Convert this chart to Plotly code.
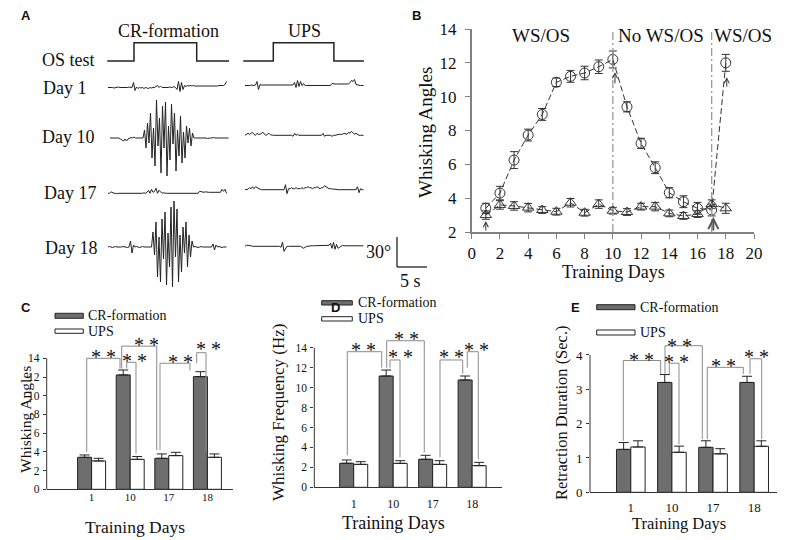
import plotly.graph_objects as go

REF_W, REF_H = 797, 540
OX, OY = 8, 8                      # page (body) margin of the exported html
W, H = REF_W - OX, REF_H - OY
SERIF = "Liberation Serif"
SANS = "Liberation Sans"


def px(x):
    return (x - OX) / W


def py(y):
    return 1 - (y - OY) / H


# ---------------- Panel A : whisker traces (degrees), one sample every 0.25 s
trace_dt = 0.25
os_level = [0, 0, 1, 1, 0, 0]
os_time_cr = [0, 4.45, 4.45, 14.9, 14.9, 20.3]
os_time_ups = [0, 5.0, 5.0, 15.1, 15.1, 20.1]

day1_cr = [0, 0, 0.5, 0, -0.5, 0, 0, 0.5, 0, 0,
           0, -0.5, 0, 0, 0.5, 0, 0, 5, -3, 0.5,
           -1, 0, -0.5, 0, -1, 0, -0.5, -1, 0, -0.5,
           0, 0, 1, 2, 0, 1.5, 0, 0, -0.5, 0,
           0, 0.5, 0, 0, 1, 0, -2, 6, -4, 5,
           -2, 2, 1, 2, 1.5, 2, 1.5, 2, 1.5, 1.5,
           1, 1.5, 1, 1, 1, 1.5, 1, 1, 1, 1.5,
           1, 1.5, 1, 1.5, 2, 2, 2.5, 2, 3, 6]
day10_cr = [0, 0, 0.5, 0, 0, 0, 0, -1, -2, -3, -1, -3, -1,
            0, 0.5, 0, 1, 0, 0, 0.5, 0, 0, 0,
            8, -10, 15, -5, 25, -20, 10, -28, 38, -8, 20, -35, 32, -10, 36, -38,
            12, -22, 34, -6, 25, -33, 8, -18, 22, -25, 6, -20, 12, -5, 10, -8, 5,
            0, 0, 0, 0, 0.5, 0, 0, 0, 0, -0.5, 0, 0, 0, 0.5, 0, 0, 0, 0, 0, 0, 0.5, 0, 0, 0]
day17_cr = [0, 0, 1.5, 0.5, 0, 0, -0.5, 0, 0, -0.5,
            0, 0, -0.5, 0, 0, 0, -0.5, 0, 0, 0,
            0, -0.5, 0, 0, 0.5, 0, 1, 3, 0, 4, 1, 2, 5, 0, 3, 1, 0, 0.5, 0, 0,
            0, 0, 0, 0, 0, 0, 0, 0, 0, 0,
            0, 0, 0, 0, 0, 0, 0, 0, 0, 0,
            0, 2, 1.5, 1.5, 1, 1.5, 1, 1, 1, 1,
            1, 1, 1, 1, 1, 1, 4, 2, 4, 0]
day18_cr = [0, 0.5, 0, -0.5, 0, 0.5, 0, 0, -0.5, 0, 0.5, 0, 0, -0.5, 0,
            6, -6, 2, 0, 0.5, 0, -0.5, 0, 0.5, 0, 0, 0.5, 0, 0, 0,
            15, -8, 25, -30, 10, -35, 28, -12, 35, -38, 14, -20, 40, -40, 46,
            -10, 38, -35, 12, -25, 20, -6, 25, -20, 12, -10, 6,
            0, 0.5, 0, -0.5, 0, 0.5, 0, 0, 0.5, 0, 0, 0, 0, 3, -3, 2, 0, 0.5, 0, -0.5, 0, 0, 0]
day1_ups = [0, 0, -0.5, 0, 0.5, 0, 0, 0.5, 4, -4, 1, 0.5, 0.5, 0, 0, 0, 0, 0, 0, 0,
            0, 0, 0, 0, 0, 0, 0, 0, 0, 0,
            0, 0, 0.5, 3, -2, 5, -1, 4, 0, 2,
            0, 0, 0, 0, 0, 0, 0, 0, 0, 0,
            0, 0, 0, 0, 0, 0, 0, 0, 2, 1.5,
            1.5, 1.5, 1.5, 1.5, 1.5, 1.5, 1.5, 1.5, 2, 1.5,
            3, 5, 4, 6, 1, 0.5, 0, 0, 0, 0]
day10_ups = [0, 1, 2, 1, 2, 3, 1, 0, 2, 1, 1, 2, 3, 1, 0, 1, 2, 0.5, 0, 0,
             0, 0, 0, 0, 0, 0, 0, 0, 0, 0,
             0, 0, -1, 2, 0, 1, 0, 0, 0, 0,
             0, 0, 0, 0, 0, 0, 0, 0, 0, 0,
             0, 0, 2, -1, 0, 0, 0, 0, -1, 0,
             0, 0.5, 0.5, 1, 1, 1, 2, 1.5, 1, 3,
             2, 4, 2, 1, 2, 0.5, 0, 0, 0, 0]
day17_ups = [0, 0, 0.5, 2, 1, 3, 1, 3, 2, 1,
             0.5, 0, 0, 0, 0, 0, 0, 0, 0, 0,
             0, 0, 0, 0, 0, 0, 0, 5, -4, 1,
             1, 2, 1, 1, 2, 1, 1, 1, 2, 1,
             2, 2, 3, 2, 2, 1, 2, 2, 3, 2,
             1, 2, 2, 4, 3, 2, 1, 1, 0.5, 0.5,
             0.5, 0, 0, 0, 0, 0, 0, 0, 0, 0,
             0, 0, 0, 0, 0, 3, -3, 1, 0, 0]
day18_ups = [0, 1, 1, 1, 0.5, 0, 0, 0, 0, 0,
             0, 0, 0, 0, 0, 0, 0, 0, 0, 0,
             0, 0, 0, 0, -1, 4, -5, -2, 0, 0,
             0, 0, 0, 0, 0, 0, 0, 0, -1, -2,
             -1, 0, 0, 0.5, 0.5, 0.5, 0.5, 0.5, 0.5, 0.5,
             0.5, 0.5, 0.5, 0.5, 0.5, 0.5, 1, 3, -2, 4,
             -3, 2, -2, -1, 0.5, 1, 0.5, 0.5, 0.5, 0.5,
             0.5, 0.5, 0.5, 0.5, 0.5, 0.5, 0.5, 0.5, 0.5, 0.5]

# ---------------- Panel B : whisking angles over training days
days_b = list(range(1, 19))
ws_cr = [3.4, 4.3, 6.25, 7.73, 8.95, 10.85, 11.2, 11.4, 11.77, 12.2,
         9.4, 7.24, 5.8, 4.32, 3.79, 3.4, 3.3, 12.0]
ws_cr_err = [0.3, 0.4, 0.5, 0.35, 0.35, 0.25, 0.35, 0.4, 0.4, 0.5,
             0.3, 0.3, 0.35, 0.3, 0.35, 0.35, 0.35, 0.5]
ws_ups = [3.0, 3.6, 3.54, 3.44, 3.3, 3.2, 3.73, 3.14, 3.65, 3.26,
          3.18, 3.5, 3.5, 3.1, 2.95, 3.06, 3.65, 3.4]
ws_ups_err = [0.25, 0.25, 0.25, 0.25, 0.2, 0.2, 0.25, 0.2, 0.25, 0.2,
              0.2, 0.2, 0.25, 0.2, 0.2, 0.2, 0.25, 0.3]
b_xticks = list(range(0, 21, 2))
b_yticks = list(range(2, 15, 2))

# ---------------- Panels C, D, E : bar charts
bar_days = ["1", "10", "17", "18"]
angle_cr = [3.42, 12.22, 3.31, 12.04]
angle_cr_err = [0.25, 0.53, 0.47, 0.53]
angle_ups = [3.03, 3.2, 3.6, 3.42]
angle_ups_err = [0.28, 0.3, 0.35, 0.36]
freq_cr = [2.41, 11.16, 2.81, 10.76]
freq_cr_err = [0.33, 0.6, 0.4, 0.4]
freq_ups = [2.3, 2.4, 2.3, 2.17]
freq_ups_err = [0.27, 0.27, 0.37, 0.33]
retr_cr = [1.25, 3.2, 1.31, 3.2]
retr_cr_err = [0.2, 0.23, 0.19, 0.18]
retr_ups = [1.32, 1.165, 1.12, 1.34]
retr_ups_err = [0.18, 0.18, 0.15, 0.16]
ticks14 = list(range(0, 15, 2))
ticks4 = [0, 1, 2, 3, 4]

INK = "#222222"
CR_FILL = "#6e6e6e"
BRACKET = dict(color="#8a8a8a", width=1)

fig = go.Figure()
shapes = []
anns = []


def ann(text, x, y, size, xref="paper", yref="paper", xanchor="center",
        yanchor="middle", angle=0, family=SERIF, **kw):
    anns.append(dict(text=text, x=x, y=y, xref=xref, yref=yref, xanchor=xanchor,
                     yanchor=yanchor, textangle=angle, showarrow=False,
                     font=dict(family=family, size=size, color="#111"), **kw))


# ================= Panel A
col_cr, col_ups = 108 / 6, 245 / 6
os_cr_start, os_ups_start = 107.3 / 6, 243.3 / 6
os_low, os_height = -61, 18.3
rows = [
    (day1_cr, col_cr, -87.5), (day10_cr, 110 / 6, -138), (day17_cr, col_cr, -193.3),
    (day18_cr, col_cr, -247),
    (day1_ups, col_ups, -85.5), (day10_ups, col_ups, -135.3), (day17_ups, col_ups, -189.7),
    (day18_ups, col_ups, -246.3),
]
for vals, start, base in rows:
    fig.add_trace(go.Scatter(
        x=[start + trace_dt * i for i in range(len(vals))],
        y=[base + v for v in vals], mode="lines", xaxis="x5", yaxis="y5",
        line=dict(color=INK, width=1), hoverinfo="skip"))
for tt, st in ((os_time_cr, os_cr_start), (os_time_ups, os_ups_start)):
    fig.add_trace(go.Scatter(
        x=[st + t for t in tt], y=[os_low + os_height * v for v in os_level],
        mode="lines", xaxis="x5", yaxis="y5", line=dict(color=INK, width=1.5),
        hoverinfo="skip"))
# scale bar 30 deg / 5 s
sb_t, sb_y = 397 / 6, -267
shapes.append(dict(type="line", xref="x5", yref="y5", x0=sb_t, x1=sb_t, y0=sb_y, y1=sb_y + 30,
                   line=dict(color=INK, width=1.3)))
shapes.append(dict(type="line", xref="x5", yref="y5", x0=sb_t, x1=sb_t + 5, y0=sb_y, y1=sb_y,
                   line=dict(color=INK, width=1.3)))
ann("30°", px(393), py(252), 18, xanchor="right")
ann("5 s", px(411), py(281), 18)
ann("CR-formation", px(168), py(31), 18)
ann("UPS", px(304), py(31), 18)
ann("OS test", px(40), py(60), 18, xanchor="left")
for lab, xx, yy in (("Day 1", 41, 88), ("Day 10", 40, 137), ("Day 17", 42, 193), ("Day 18", 43, 248)):
    ann(lab, px(xx), py(yy), 18, xanchor="left")

# ================= Panel B
fig.add_trace(go.Scatter(
    x=days_b, y=ws_cr, mode="lines+markers", xaxis="x", yaxis="y",
    line=dict(color="#333", width=1, dash="6px,3px"),
    marker=dict(symbol="circle-open", size=10, color="#333", line=dict(width=1)),
    error_y=dict(type="data", array=ws_cr_err, color="#333", thickness=1, width=4)))
fig.add_trace(go.Scatter(
    x=days_b, y=ws_ups, mode="lines+markers", xaxis="x", yaxis="y",
    line=dict(color="#333", width=1, dash="6px,3px"),
    marker=dict(symbol="triangle-up-open", size=10, color="#333", line=dict(width=1)),
    error_y=dict(type="data", array=ws_ups_err, color="#333", thickness=1, width=4)))
for xv in (10, 17):
    shapes.append(dict(type="line", xref="x", yref="y", x0=xv, x1=xv, y0=2, y1=14,
                       line=dict(color="#9a9a9a", width=1.3, dash="8px,3px,2px,3px")))
for (hx, hy, tx, ty, wdt, col) in ((1, 2.65, 1, 2.0, 1, "#333"),
                                   (10.15, 11.45, 10.15, 10.7, 1, "#333"),
                                   (17.12, 2.9, 17.12, 2.0, 2, "#555"),
                                   (18.07, 11.15, 18.07, 10.5, 1, "#333")):
    anns.append(dict(x=hx, y=hy, ax=tx, ay=ty, xref="x", yref="y", axref="x", ayref="y",
                     text="", showarrow=True, arrowhead=5, arrowsize=1, arrowwidth=wdt,
                     arrowcolor=col))
ann("WS/OS", 4.9, 13.64, 19, xref="x", yref="y")
ann("No WS/OS", 13.4, 13.64, 19, xref="x", yref="y")
ann("WS/OS", 19.25, 13.64, 19, xref="x", yref="y")
ann("Whisking Angles", px(425), py(133), 19, angle=-90)
ann("Training Days", px(613), py(272), 18)

# ================= Panels C, D, E
panels = [
    ("x2", "y2", angle_cr, angle_cr_err, angle_ups, angle_ups_err, 0.3625),
    ("x3", "y3", freq_cr, freq_cr_err, freq_ups, freq_ups_err, 0.355),
    ("x4", "y4", retr_cr, retr_cr_err, retr_ups, retr_ups_err, 0.348),
]
for xa, ya, cr, cre, ups, upe, bw in panels:
    fig.add_trace(go.Bar(
        x=bar_days, y=cr, xaxis=xa, yaxis=ya, width=bw, offset=-bw,
        marker=dict(color=CR_FILL, line=dict(color=INK, width=1)),
        error_y=dict(type="data", array=cre, arrayminus=[0] * len(cre), symmetric=False,
                     color=INK, thickness=1, width=5)))
    fig.add_trace(go.Bar(
        x=bar_days, y=ups, xaxis=xa, yaxis=ya, width=bw, offset=0,
        marker=dict(color="white", line=dict(color=INK, width=1)),
        error_y=dict(type="data", array=upe, arrayminus=[0] * len(upe), symmetric=False,
                     color=INK, thickness=1, width=5)))

brackets = {
    ("x2", "y2"): [(-0.127, 0.736, 14.0, 4.0, 12.9, 0.303, 14.6),
                   (0.909, 1.150, 13.57, 12.9, 3.8, 1.124, 14.17),
                   (0.780, 1.687, 15.3, 12.9, 4.2, 1.427, 15.85),
                   (1.772, 2.549, 13.47, 4.2, 12.7, 2.290, 14.0),
                   (2.723, 2.964, 14.6, 13.5, 4.0, 3.041, 15.42)],
    ("x3", "y3"): [(-0.162, 0.709, 13.6, 3.2, 12.0, 0.243, 14.17),
                   (0.919, 1.173, 12.77, 12.0, 3.0, 1.173, 13.44),
                   (0.836, 1.788, 14.7, 12.0, 3.5, 1.325, 15.27),
                   (2.186, 2.761, 12.77, 3.0, 11.4, 2.482, 13.44),
                   (2.877, 3.156, 13.6, 12.0, 2.8, 3.115, 14.17)],
    ("x4", "y4"): [(-0.182, 0.727, 3.84, 1.5, 3.45, 0.265, 3.97),
                   (0.936, 1.172, 3.76, 3.45, 1.4, 1.116, 3.90),
                   (0.832, 1.739, 4.27, 3.45, 1.55, 1.196, 4.39),
                   (1.860, 2.736, 3.64, 1.55, 3.45, 2.25, 3.79),
                   (2.899, 3.183, 3.89, 3.45, 1.55, 3.062, 4.05)],
}
for (xa, ya), specs in brackets.items():
    for x0, x1, top, lb, rb, sx, sy in specs:
        shapes.append(dict(type="line", xref=xa, yref=ya, x0=x0, x1=x0, y0=lb, y1=top, line=BRACKET))
        shapes.append(dict(type="line", xref=xa, yref=ya, x0=x0, x1=x1, y0=top, y1=top, line=BRACKET))
        shapes.append(dict(type="line", xref=xa, yref=ya, x0=x1, x1=x1, y0=top, y1=rb, line=BRACKET))
        ann("* *", sx, sy, 20, xref=xa, yref=ya, yshift=-4)

# manual y-axis lines (axis only spans the tick range)
for xl, yb, yt in ((46.7, 489.3, 358.3), (314.3, 487.3, 347.7), (590, 492.3, 355)):
    shapes.append(dict(type="line", xref="paper", yref="paper", x0=px(xl), x1=px(xl),
                       y0=py(yb), y1=py(yt), line=dict(color="#333", width=1)))

# legends
for (x0, x1, ycr, yups, tx) in ((55, 83.3, (313.3, 318.3), (329, 333.3), 86),
                                (321.7, 352.3, (300.7, 305), (316.7, 321), 355.7),
                                (596.7, 635, (304.7, 309.7), (330, 335), 638.3)):
    shapes.append(dict(type="rect", xref="paper", yref="paper", x0=px(x0), x1=px(x1),
                       y0=py(ycr[1]), y1=py(ycr[0]), fillcolor=CR_FILL, line=dict(color=INK, width=1)))
    shapes.append(dict(type="rect", xref="paper", yref="paper", x0=px(x0), x1=px(x1),
                       y0=py(yups[1]), y1=py(yups[0]), fillcolor="white", line=dict(color=INK, width=1)))
    ann("CR-formation", px(tx), py((ycr[0] + ycr[1]) / 2), 14, xanchor="left")
    ann("UPS", px(tx), py((yups[0] + yups[1]) / 2), 14, xanchor="left")

ann("Whisking Angles", px(25), py(420), 15.5, angle=-90)
ann("Whisking Frequency (Hz)", px(278.3), py(411.7), 17, angle=-90)
ann("Retraction Duration (Sec.)", px(561.7), py(412.3), 16.5, angle=-90)
ann("Training Days", px(135), py(526.7), 17.5)
ann("Training Days", px(393.3), py(523.3), 18)
ann("Training Days", px(679), py(523.3), 16.5)

# panel letters
for lab, xx, yy in (("A", 26, 15), ("B", 416, 15), ("C", 26, 307), ("D", 335, 307), ("E", 575, 307)):
    ann("<b>%s</b>" % lab, px(xx), py(yy), 13, family=SANS)


def bar_x(dom, rng, size, standoff):
    return dict(domain=dom, range=rng, type="category", showline=True, linecolor="#333",
                linewidth=1, ticks="", showgrid=False, zeroline=False, automargin=False,
                tickfont=dict(family=SERIF, size=size, color="#111"),
                ticklabelstandoff=standoff)


def bar_y(dom, rng, xa, tv, size):
    return dict(domain=dom, range=rng, anchor=xa, showline=False, ticks="outside", ticklen=3,
                tickcolor="#333", tickmode="array", tickvals=tv, showgrid=False, zeroline=False,
                automargin=False,
                tickfont=dict(family=SERIF, size=size, color="#111"), ticklabelstandoff=1)


gray_ax = dict(showline=True, linecolor="#808080", linewidth=1.5, ticks="outside", ticklen=5,
               tickcolor="#808080", showgrid=False, zeroline=False, automargin=False,
               tickfont=dict(family=SERIF, size=17, color="#111"))

fig.update_layout(
    width=W, height=H, margin=dict(l=0, r=0, t=0, b=0, pad=0, autoexpand=False),
    paper_bgcolor="white", plot_bgcolor="rgba(0,0,0,0)", showlegend=False,
    xaxis=dict(domain=[px(471.7), px(754)], range=[0, 20], tickmode="array", tickvals=b_xticks,
               anchor="y", ticklabelstandoff=0, **gray_ax),
    yaxis=dict(domain=[py(232), py(29)], range=[2, 14], tickmode="array", tickvals=b_yticks,
               anchor="x", ticklabelstandoff=5, **gray_ax),
    xaxis2=dict(anchor="y2", **bar_x([px(46.7), px(233)], [-1.163, 3.663], 11, -3)),
    yaxis2=bar_y([py(489.3), py(489.3 - 17 * 9.357)], [0, 17], "x2", ticks14, 11.5),
    xaxis3=dict(anchor="y3", **bar_x([px(314.3), px(501.7)], [-0.998, 3.749], 12, 5)),
    yaxis3=bar_y([py(487.3), py(487.3 - 17 * 9.971)], [0, 17], "x3", ticks14, 11.5),
    xaxis4=dict(anchor="y4", **bar_x([px(590), px(776.7)], [-0.992, 3.548], 13, 3)),
    yaxis4=bar_y([py(492.3), py(492.3 - 4.85 * 34.33)], [0, 4.85], "x4", ticks4, 13),
    xaxis5=dict(domain=[0, px(440)], range=[OX / 6, 440 / 6], visible=False, anchor="y5"),
    yaxis5=dict(domain=[py(300), 1], range=[-300, -OY], visible=False, anchor="x5"),
    shapes=shapes, annotations=anns,
)

fig.write_html("out.html")
